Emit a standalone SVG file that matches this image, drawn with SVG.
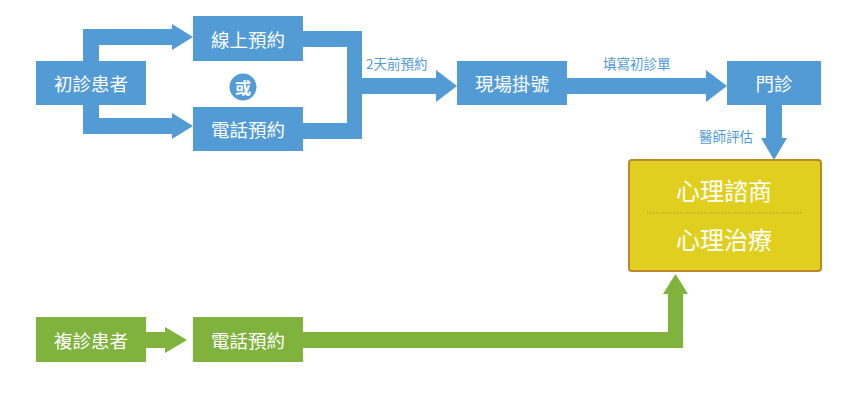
<svg xmlns="http://www.w3.org/2000/svg" width="860" height="400" viewBox="0 0 860 400">
<style>
.b{fill:#529bd5}
.g{fill:#80b23e}
.t{font-family:"Noto Sans CJK TC","Noto Sans CJK SC",sans-serif;fill:#fff;font-size:18.5px;text-anchor:middle;dominant-baseline:central}
.lb{font-family:"Noto Sans CJK TC","Noto Sans CJK SC",sans-serif;fill:#529bd5;font-size:13.5px;dominant-baseline:central}
.y{font-family:"Noto Sans CJK TC","Noto Sans CJK SC",sans-serif;fill:#fff;font-size:24px;text-anchor:middle;dominant-baseline:central}
</style>
<rect width="860" height="400" fill="#fff"/>
<g id="connectors">
  <rect class="b" x="83" y="29" width="16" height="105"/>
  <polygon class="b" points="83,29 172,29 172,24 193,37 172,50 172,45 83,45"/>
  <polygon class="b" points="83,118 172,118 172,113 193,126 172,139 172,134 83,134"/>
  <polygon class="b" points="303,31 362,31 362,78 436,78 436,70 457,86 436,102 436,94 362,94 362,139 303,139 303,123 347,123 347,47 303,47"/>
  <text class="lb" x="366" y="63">2天前預約</text>
  <polygon class="b" points="567,78 706,78 706,70 727,86 706,102 706,94 567,94"/>
  <text class="lb" x="603" y="63">填寫初診單</text>
  <polygon class="b" points="766,105 782,105 782,138 787,138 774,160 761,138 766,138"/>
  <text class="lb" x="753" y="136" text-anchor="end">醫師評估</text>
  <polygon class="g" points="146,332 165,332 165,327 187,340 165,353 165,348 146,348"/>
  <polygon class="g" points="303,332 668,332 668,294 663,294 675.5,274 688,294 683,294 683,348 303,348"/>
</g>
<g id="n1"><rect class="b" x="36" y="61" width="110" height="44"/><text class="t" x="91" y="83">初診患者</text></g>
<g id="n2"><rect class="b" x="193" y="16" width="110" height="45"/><text class="t" x="248" y="38.5">線上預約</text></g>
<g id="or"><circle class="b" cx="243" cy="87" r="13.5"/><text class="t" x="243" y="86.5" style="font-size:16px;font-weight:bold">或</text></g>
<g id="n3"><rect class="b" x="193" y="107" width="110" height="44"/><text class="t" x="248" y="129">電話預約</text></g>
<g id="n4"><rect class="b" x="457" y="61" width="110" height="44"/><text class="t" x="512" y="83">現場掛號</text></g>
<g id="n5"><rect class="b" x="727" y="61" width="94" height="44"/><text class="t" x="774" y="83">門診</text></g>
<g id="n6">
  <rect x="629" y="160" width="192" height="111" rx="3" fill="#e0cf1e" stroke="#b88a2a" stroke-width="2"/>
  <text class="y" x="724" y="189">心理諮商</text>
  <line x1="647" y1="213" x2="803" y2="213" stroke="#b89a2a" stroke-width="1" stroke-dasharray="1.5,1.5"/>
  <text class="y" x="724" y="238">心理治療</text>
</g>
<g id="n7"><rect class="g" x="36" y="317" width="110" height="45"/><text class="t" x="91" y="339.5">複診患者</text></g>
<g id="n8"><rect class="g" x="193" y="317" width="110" height="45"/><text class="t" x="248" y="339.5">電話預約</text></g>
</svg>
